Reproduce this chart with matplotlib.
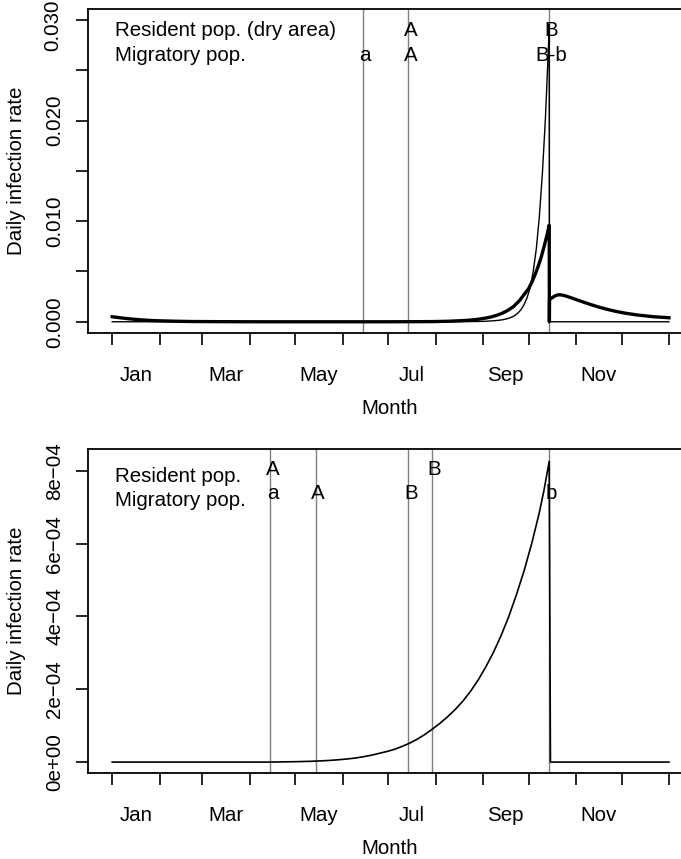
import matplotlib
matplotlib.use("Agg")
import matplotlib.pyplot as plt
from matplotlib.ticker import FixedLocator, FixedFormatter, NullFormatter
from matplotlib.transforms import offset_copy

plt.rcParams["font.family"] = ["Liberation Sans", "DejaVu Sans"]
plt.rcParams["font.size"] = 14.8

# x axis: day of year (0 = 1 Jan)
month_starts = [0, 31, 59, 90, 120, 151, 181, 212, 243, 273, 304, 334, 365]
label_days = [15.5, 74.5, 135.5, 196.5, 258, 319]
label_names = ["Jan", "Mar", "May", "Jul", "Sep", "Nov"]

# top panel: resident pop. (dry area) - thin line
dry_days = [0, 200, 230, 240, 245, 250, 253, 256, 258, 260, 262, 264, 266,
            268, 270, 272, 274, 276, 278, 280, 282, 284, 286, 286.5, 286.6, 365]
dry_rate = [0, 0, 0.00001, 0.00003, 0.00005, 0.0001, 0.00014, 0.0002,
            0.000264, 0.00035, 0.000466, 0.00063, 0.00087, 0.0012, 0.0017,
            0.0024, 0.0034, 0.005, 0.0072, 0.0104, 0.0147, 0.0202, 0.0273,
            0.0296, 0, 0]

# top panel: migratory pop. - thick line
mig_days = [0, 5, 10, 15, 20, 25, 30, 40, 50, 70, 100, 180, 200, 210, 220,
            225, 230, 235, 240, 243, 246, 249, 252, 255, 257, 259, 261, 263,
            265, 267, 269, 271, 273, 275, 277, 279, 281, 283, 285, 286.5,
            286.6, 286.7, 288, 289.5, 291, 292.5, 294, 296, 298, 300, 303,
            306, 310, 315, 320, 325, 330, 335, 340, 345, 350, 355, 360, 365]
mig_rate = [0.0005, 0.0004, 0.00031, 0.00024, 0.00018, 0.00013, 0.0001,
            0.00006, 0.00003, 0.00001, 0, 0, 0.00001, 0.00002, 0.00005,
            0.00008, 0.00012, 0.00017, 0.00025, 0.00032, 0.0004, 0.0005,
            0.00064, 0.0008, 0.00095, 0.0011, 0.0013, 0.0015, 0.0018, 0.0021,
            0.0025, 0.0029, 0.0033, 0.0039, 0.0046, 0.0054, 0.0063, 0.0074,
            0.0086, 0.0096, 0, 0.0022, 0.00235, 0.0025, 0.00262, 0.00268,
            0.00268, 0.00262, 0.00253, 0.00243, 0.00227, 0.00211, 0.0019,
            0.00165, 0.00142, 0.00122, 0.00104, 0.00089, 0.00077, 0.00066,
            0.00058, 0.0005, 0.00045, 0.0004]

# bottom panel
low_days = [0, 103.5, 110, 115, 120, 125, 130, 135, 140, 145, 150, 155, 160,
            165, 170, 175, 180, 185, 190, 195, 200, 205, 210, 215, 220, 225,
            230, 235, 240, 245, 250, 255, 260, 265, 270, 275, 280, 283, 286.5,
            287.3, 365]
low_rate_e4 = [0, 0, 0.005, 0.008, 0.011, 0.016, 0.022, 0.03, 0.04, 0.053,
               0.07, 0.09, 0.115, 0.15, 0.19, 0.24, 0.29, 0.35, 0.43, 0.52,
               0.63, 0.76, 0.91, 1.07, 1.25, 1.45, 1.68, 1.95, 2.26, 2.62,
               3.02, 3.48, 4.0, 4.6, 5.25, 6.0, 6.85, 7.45, 8.26, 0, 0]
low_rate = [v * 1e-4 for v in low_rate_e4]

top_vlines = [164.3, 194.2, 286.5]
top_row1 = [(194.2, "A"), (286.5, "B")]
top_row2 = [(164.3, "a"), (194.2, "A"), (286.5, "B-b")]

low_vlines = [103.5, 133.3, 194.2, 209.4, 286.5]
low_row1 = [(103.5, "A"), (209.4, "B")]
low_row2 = [(103.5, "a"), (133.3, "A"), (194.2, "B"), (286.5, "b")]

top_yticks = [0.0, 0.01, 0.02, 0.03]
top_ylabels = ["0.000", "0.010", "0.020", ""]
top_yminor = [0.005, 0.015, 0.025]
low_yticks = [0, 2e-4, 4e-4, 6e-4, 8e-4]
low_ylabels = ["0e+00", "2e\u221204", "4e\u221204", "6e\u221204", "8e\u221204"]

fig = plt.figure(figsize=(6.81, 8.59), dpi=100)
ax1 = fig.add_axes([0.1292, 0.6123, 0.8858, 0.3772])
ax2 = fig.add_axes([0.1292, 0.1001, 0.8858, 0.3772])

grey = "#7f7f7f"
shift = 1.6


def style(ax, yticks, ylabels, yminor):
    ax.set_xlim(-15.9, 379.6)
    ax.xaxis.set_major_locator(FixedLocator(month_starts))
    ax.xaxis.set_major_formatter(NullFormatter())
    ax.xaxis.set_minor_locator(FixedLocator(label_days))
    ax.xaxis.set_minor_formatter(FixedFormatter(label_names))
    ax.tick_params(axis="x", which="major", length=8.6, width=1.2)
    ax.tick_params(axis="x", which="minor", length=0, pad=24)
    ax.yaxis.set_major_locator(FixedLocator(yticks))
    ax.yaxis.set_major_formatter(FixedFormatter(ylabels))
    ax.yaxis.set_minor_locator(FixedLocator(yminor))
    ax.tick_params(axis="y", which="both", length=8.6, width=1.2)
    ax.tick_params(axis="y", which="major", pad=8.5)
    for lab in ax.get_yticklabels():
        lab.set_rotation(90)
        lab.set_va("center")
    for s in ax.spines.values():
        s.set_linewidth(1.3)
    ax.set_xlabel("Month")
    ax.xaxis.set_label_coords(0.5, -0.232)
    ax.xaxis.label.set_va("center")
    ax.set_ylabel("Daily infection rate")
    ax.yaxis.set_label_coords(-0.1177, 0.5)
    ax.yaxis.label.set_va("center")


# top panel
for x in top_vlines:
    ax1.axvline(x, color=grey, lw=1.0)
ax1.plot(dry_days, dry_rate, color="black", lw=1.0)
ax1.plot(mig_days, mig_rate, color="black", lw=2.4)
ax1.set_ylim(-0.00112, 0.0311)
style(ax1, top_yticks, top_ylabels, top_yminor)
# top tick label nudged down so it stays inside the figure
trans = offset_copy(ax1.get_yaxis_transform(), fig=fig, x=-35, y=-5,
                    units="dots")
ax1.text(0, 0.030, "0.030", transform=trans, rotation=90, ha="center",
         va="center")
ax1.text(1.5, 0.0290, "Resident pop. (dry area)", ha="left", va="center")
ax1.text(1.5, 0.0265, "Migratory pop.", ha="left", va="center")
for x, t in top_row1:
    ax1.text(x + shift, 0.0290, t, ha="center", va="center")
for x, t in top_row2:
    ax1.text(x + shift, 0.0265, t, ha="center", va="center")

# bottom panel
for x in low_vlines:
    ax2.axvline(x, color=grey, lw=1.0)
ax2.plot(low_days, low_rate, color="black", lw=1.2)
ax2.set_ylim(-0.3e-4, 8.6e-4)
style(ax2, low_yticks, low_ylabels, [])
ax2.text(1.5, 7.84e-4, "Resident pop.", ha="left", va="center")
ax2.text(1.5, 7.18e-4, "Migratory pop.", ha="left", va="center")
for x, t in low_row1:
    ax2.text(x + shift, 8.05e-4, t, ha="center", va="center")
for x, t in low_row2:
    ax2.text(x + shift, 7.37e-4, t, ha="center", va="center")

fig.savefig("out.png", dpi=100)
